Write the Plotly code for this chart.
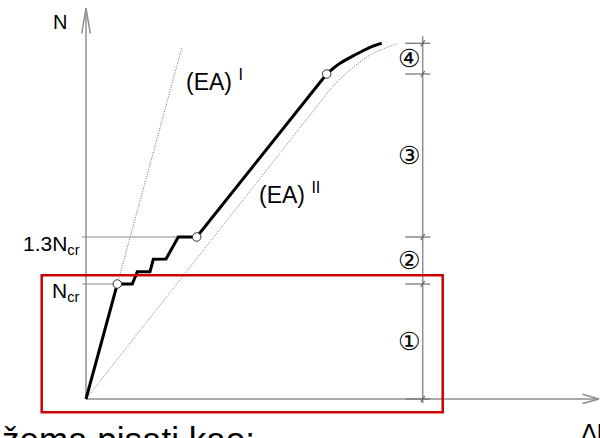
import plotly.graph_objects as go

# ---- data (schematic units: 1 unit = 10 px of the reference) ----
# bold N–Δl response curve (elastic line, buckling steps, linear branch)
curve_dl = [0.0, 3.13, 4.63, 5.13, 6.40, 6.73, 8.00, 9.23, 11.07, 24.07]
curve_N = [0.0, 11.5, 11.5, 12.73, 12.73, 13.97, 14.00, 16.2, 16.2, 32.5]
# bold curved end (plastification)
top_dl = [24.07, 25.40, 27.07, 28.40, 29.57]
top_N = [32.5, 33.57, 34.50, 35.17, 35.57]
# marked points
pts_dl = [3.13, 11.07, 24.07]
pts_N = [11.5, 16.2, 32.5]
# stiffness (EA)^I dotted line
ea1_dl = [0.0, 9.57]
ea1_N = [0.0, 35.07]
# stiffness (EA)^II dotted curve
ea2_dl = [0.0, 23.07, 24.73, 26.40, 28.40, 31.23]
ea2_N = [0.0, 29.23, 31.30, 32.90, 34.40, 35.57]
# load levels
N_cr = 11.5
N_13cr = 16.2
level_labels = ["N<sub>cr</sub>", "1.3N<sub>cr</sub>"]
# dimension chain on the right
dim_x = 33.67
dim_levels = [0.0, 11.5, 16.2, 32.5, 35.57]
dim_labels = ["①", "②", "③", "④"]
# axes extents
x_axis_end = 51.3
y_axis_end = 39.07
# highlight box
box_dl = [-4.43, 35.67]
box_N = [-1.33, 12.37]

GRAY = "#8f8f8f"
FONT = "Liberation Sans, Arial, sans-serif"

fig = go.Figure()

def line(x, y, color=GRAY, width=1.5, dash="solid", shape="linear"):
    fig.add_trace(go.Scatter(x=x, y=y, mode="lines", hoverinfo="skip",
                             line=dict(color=color, width=width, dash=dash, shape=shape),
                             showlegend=False))

# axes
line([0, x_axis_end], [0, 0])
line([0, 0], [0, y_axis_end])
line([x_axis_end - 1.65, x_axis_end, x_axis_end - 1.65], [0.48, 0, -0.45])
line([-0.43, 0, 0.43], [y_axis_end - 2.5, y_axis_end, y_axis_end - 2.5])

# dimension chain
line([dim_x, dim_x], [-0.43, dim_levels[-1] + 0.7])
for lv in dim_levels:
    line([dim_x - 1.75, dim_x + 0.75], [lv, lv], color="#777777", width=1.3)
    line([dim_x - 0.2, dim_x + 0.2], [lv - 0.3, lv + 0.3], color="#666666", width=1.3)

# level guide lines
line([-0.4, pts_dl[0]], [N_cr, N_cr], color="#8a8a8a", width=1.2)
line([-0.4, pts_dl[1]], [N_13cr, N_13cr], color="#8a8a8a", width=1.2)

# stiffness lines
line(ea1_dl, ea1_N, color="#666666", width=1, dash="1px,1.5px")
line(ea2_dl, ea2_N, color="#666666", width=1, dash="1px,1.5px", shape="spline")

# response curve
line(curve_dl, curve_N, color="black", width=3)
line(top_dl, top_N, color="black", width=3, shape="spline")
fig.add_trace(go.Scatter(x=pts_dl, y=pts_N, mode="markers", hoverinfo="skip", showlegend=False,
                         marker=dict(size=8.5, color="white", line=dict(color="#333333", width=1))))

# highlight box
fig.add_shape(type="rect", x0=box_dl[0], x1=box_dl[1], y0=box_N[0], y1=box_N[1],
              line=dict(color="#cc0000", width=2.5), fillcolor="rgba(0,0,0,0)")

ann = []
ann.append(dict(x=-2.6, y=37.73, text="N", font=dict(size=20)))
ann.append(dict(x=9.8, y=31.9, text="(EA) <sup>I</sup>", xanchor="left", font=dict(size=23)))
ann.append(dict(x=17.1, y=20.6, text="(EA) <sup>II</sup>", xanchor="left", font=dict(size=23)))
ann.append(dict(x=-0.4, y=N_13cr - 0.75, text=level_labels[1], xanchor="right", font=dict(size=21)))
ann.append(dict(x=-0.4, y=N_cr - 0.75, text=level_labels[0], xanchor="right", font=dict(size=21)))
for i, lab in enumerate(dim_labels):
    ann.append(dict(x=dim_x - 1.42, y=(dim_levels[i] + dim_levels[i + 1]) / 2, text=lab,
                    font=dict(size=25, family="DejaVu Sans")))
for a in ann:
    a.setdefault("xanchor", "center")
    a["yanchor"] = "middle"
    a["showarrow"] = False
    a["xref"] = "x"
    a["yref"] = "y"
    fig.add_annotation(**a)

# texts at the cut-off bottom edge
fig.add_annotation(x=-8.6, y=1 - 418 / 438, xref="x", yref="paper", text="žema pisati kao:",
                   xanchor="left", yanchor="top", showarrow=False, font=dict(size=35))
fig.add_annotation(x=49.3, y=1 - 417 / 438, xref="x", yref="paper", text="Δl",
                   xanchor="left", yanchor="top", showarrow=False, font=dict(size=24))

fig.update_layout(
    width=600, height=438, margin=dict(l=0, r=0, t=0, b=0),
    paper_bgcolor="white", plot_bgcolor="white",
    font=dict(family=FONT, color="black"),
    xaxis=dict(range=[-8.6, 51.4], visible=False, fixedrange=True),
    yaxis=dict(range=[-3.9, 39.9], visible=False, fixedrange=True),
)
fig.write_html("out.html", config={"displayModeBar": False},
               post_script="document.body.style.margin='0';document.body.style.overflow='hidden';")
